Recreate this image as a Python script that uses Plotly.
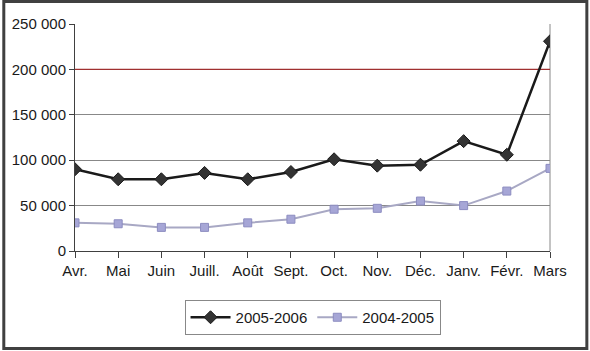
import plotly.graph_objects as go

months = ["Avr.", "Mai", "Juin", "Juill.", "Août", "Sept.", "Oct.", "Nov.", "Déc.", "Janv.", "Févr.", "Mars"]
s_2005_2006 = [90000, 79000, 79000, 86000, 79000, 87000, 101000, 94000, 95000, 121000, 106000, 231000]
s_2004_2005 = [31000, 30000, 26000, 26000, 31000, 35000, 46000, 47000, 55000, 50000, 66000, 91000]
y_ticks = [0, 50000, 100000, 150000, 200000, 250000]
highlight_level = 200000

W, H = 590, 351
L, R, T, B = 73, 40, 24, 100
pw, ph = W - L - R, H - T - B

FONT = "Liberation Sans, Arial, sans-serif"

fig = go.Figure()

# highlighted gridline drawn as a trace beneath the series
fig.add_trace(go.Scatter(
    x=[months[0], months[-1]], y=[highlight_level, highlight_level], mode="lines",
    line=dict(color="#A03030", width=1.2), showlegend=False, hoverinfo="skip",
))
fig.add_trace(go.Scatter(
    x=months, y=s_2005_2006, name="2005-2006", mode="lines+markers",
    line=dict(color="#1a1a1a", width=2.5),
    marker=dict(symbol="diamond", size=10, color="#333333", line=dict(color="#1a1a1a", width=1)),
))
fig.add_trace(go.Scatter(
    x=months, y=s_2004_2005, name="2004-2005", mode="lines+markers",
    line=dict(color="#A8A8C4", width=2),
    marker=dict(symbol="square", size=8, color="#A6A6D6", line=dict(color="#8C8CC0", width=1)),
))

# plot area right edge
fig.add_shape(type="line", xref="paper", yref="paper", x0=1, x1=1, y0=0, y1=1,
              line=dict(color="#888888", width=1), layer="between")
# outer frame
fig.add_shape(type="rect", xref="paper", yref="paper",
              x0=(1.5 - L) / pw, x1=(587 - L) / pw,
              y0=-(348.5 - T - ph) / ph,
              y1=1 + (T - 1.5) / ph,
              line=dict(color="#404040", width=3))

fig.update_layout(
    width=W, height=H,
    margin=dict(l=L, r=R, t=T, b=B),
    paper_bgcolor="white", plot_bgcolor="white",
    separators=", ",
    font=dict(family=FONT, size=15, color="#1a1a1a"),
    showlegend=True,
    legend=dict(
        orientation="h", xanchor="left", yanchor="top",
        x=(183 - L) / pw, y=-(300 - T - ph) / ph,
        bordercolor="#888888", borderwidth=1,
        font=dict(family=FONT, size=15, color="#1a1a1a"),
        itemwidth=40, tracegroupgap=0,
    ),
    xaxis=dict(
        type="category", categoryorder="array", categoryarray=months,
        range=[0, len(months) - 1],
        showgrid=False, showline=True, linecolor="#404040", linewidth=1,
        ticks="outside", ticklen=6, tickcolor="#404040",
        tickfont=dict(family=FONT, size=15, color="#1a1a1a"),
        zeroline=False,
    ),
    yaxis=dict(
        range=[0, 250000], tickvals=y_ticks, tickformat=",d",
        showgrid=True, gridcolor="#888888", gridwidth=1,
        showline=True, linecolor="#404040", linewidth=1,
        ticks="outside", ticklen=5, tickcolor="#404040",
        tickfont=dict(family=FONT, size=15, color="#1a1a1a"),
        zeroline=False,
    ),
)

fig.write_html("out.html")
